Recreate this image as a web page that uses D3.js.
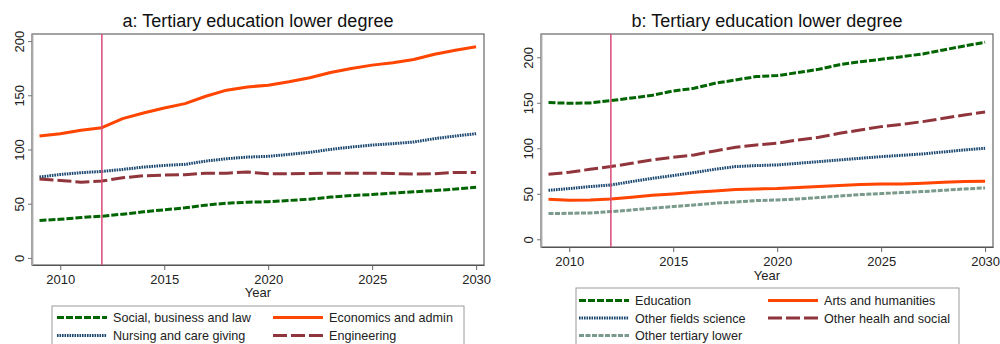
<!DOCTYPE html>
<html>
<head>
<meta charset="utf-8">
<script src="https://cdn.jsdelivr.net/npm/d3@7"></script>
<style>
  html, body { margin: 0; padding: 0; background: #ffffff; }
  svg { display: block; font-family: "Liberation Sans", Arial, sans-serif; }
</style>
</head>
<body>
<svg id="chart" width="1000" height="344"></svg>
<script>
// Projected numbers by field, tertiary education lower degree (thousands)
const years = d3.range(2009, 2031);
const xTicks = [2010, 2015, 2020, 2025, 2030];
const yTicks = [0, 50, 100, 150, 200];
const markerYear = 2012;

// Panel a
const socialBusinessLaw = [34.5, 35.7, 37.3, 38.5, 40.4, 42.5, 44.4, 46.2, 48.7, 50.5, 51.4,
  51.8, 53.0, 54.2, 56.1, 57.6, 58.5, 59.8, 61.0, 62.2, 63.5, 65.3];
const economicsAdmin = [112.4, 114.6, 117.7, 120.1, 128.5, 133.7, 138.3, 142.3, 149.1, 154.7, 157.7,
  159.3, 162.4, 166.1, 171.0, 174.7, 177.8, 179.9, 183.0, 187.9, 191.6, 194.7];
const nursingCare = [74.6, 77.0, 78.6, 79.8, 81.6, 83.8, 85.3, 86.3, 89.3, 91.5, 93.0,
  93.7, 95.5, 97.4, 100.1, 102.3, 104.1, 105.4, 106.9, 110.0, 112.4, 114.6];
const engineering = [72.7, 71.5, 69.9, 70.9, 73.9, 75.8, 76.4, 76.7, 78.2, 78.2, 79.2,
  77.6, 77.6, 77.9, 78.2, 78.2, 78.2, 77.9, 77.3, 77.6, 78.9, 78.9];

// Panel b
const education = [150.2, 149.5, 149.8, 152.4, 155.3, 158.2, 163.0, 165.9, 171.4, 175.1, 178.8,
  179.9, 183.2, 186.8, 191.9, 195.2, 197.8, 200.7, 203.7, 208.1, 212.5, 216.5];
const artsHumanities = [44.0, 42.9, 43.2, 44.3, 46.2, 48.4, 49.8, 51.6, 53.1, 54.6, 55.3,
  55.7, 56.8, 57.9, 59.0, 60.1, 60.8, 60.8, 61.5, 62.6, 63.4, 63.7];
const otherScience = [53.8, 55.7, 57.9, 59.7, 63.4, 67.0, 70.0, 73.3, 76.9, 79.9, 81.0,
  81.7, 83.5, 85.3, 87.2, 89.0, 90.8, 92.3, 93.8, 96.0, 98.2, 100.0];
const otherHealthSocial = [71.4, 73.6, 76.9, 79.9, 83.5, 87.2, 90.1, 92.7, 97.1, 101.1, 103.7,
  105.5, 109.2, 112.1, 116.5, 120.1, 123.8, 126.4, 129.3, 133.0, 136.6, 139.9];
const otherTertiary = [28.2, 28.6, 28.9, 30.4, 32.2, 34.1, 35.9, 37.7, 39.6, 41.0, 42.5,
  43.2, 44.3, 45.8, 47.6, 49.1, 50.2, 51.3, 52.4, 53.8, 55.3, 56.4];

const titleA = "a: Tertiary education lower degree";
const titleB = "b: Tertiary education lower degree";
const namesA = ["Social, business and law", "Economics and admin", "Nursing and care giving", "Engineering"];
const namesB = ["Education", "Arts and humanities", "Other fields science", "Other healh and social", "Other tertiary lower"];

// Line styles
const styles = {
  green:  { color: "#006400", dash: "7,2" },
  orange: { color: "#ff4500", dash: null },
  navy:   { color: "#1a476f", dash: "1.6,0.9" },
  maroon: { color: "#90353b", dash: "14,4" },
  sage:   { color: "#7a9a8c", dash: "5,1.5" }
};

const svg = d3.select("#chart");

function drawPanel(p) {
  const g = svg.append("g");
  const x = d3.scaleLinear().domain([2008.64, 2030.38]).range([p.left, p.right]);
  const y = d3.scaleLinear().domain(p.yDomain).range([p.bottom, p.top]);

  // title
  g.append("text")
    .attr("x", (p.left + p.right) / 2).attr("y", 27)
    .attr("text-anchor", "middle")
    .attr("font-size", 18).attr("fill", "#111")
    .text(p.title);

  // plot region outline
  g.append("rect")
    .attr("x", p.left).attr("y", p.top)
    .attr("width", p.right - p.left).attr("height", p.bottom - p.top)
    .attr("fill", "#fff").attr("stroke", "#666").attr("stroke-width", 1.2);

  // left axis
  const ya = g.append("g")
    .attr("transform", `translate(${p.left},0)`)
    .call(d3.axisLeft(y).tickValues(yTicks).tickSize(4).tickSizeOuter(0));
  ya.select(".domain").attr("stroke", "#a8a8a8").attr("stroke-width", 1.8);
  ya.selectAll(".tick line").attr("stroke", "#777");
  ya.selectAll(".tick text")
    .attr("transform", "rotate(-90)")
    .attr("x", 0).attr("y", -8).attr("dy", 0)
    .attr("text-anchor", "middle")
    .attr("font-size", 13).attr("fill", "#222")
    .attr("font-family", "Liberation Sans, Arial, sans-serif");

  // bottom axis
  const xa = g.append("g")
    .attr("transform", `translate(0,${p.bottom})`)
    .call(d3.axisBottom(x).tickValues(xTicks).tickFormat(d3.format("d")).tickSize(5).tickSizeOuter(0).tickPadding(4.5));
  xa.select(".domain").attr("stroke", "#555").attr("stroke-width", 1.2);
  xa.selectAll(".tick line").attr("stroke", "#666");
  xa.selectAll(".tick text")
    .attr("font-size", 13).attr("fill", "#222")
    .attr("font-family", "Liberation Sans, Arial, sans-serif");

  g.append("text")
    .attr("x", (p.left + p.right) / 2).attr("y", p.bottom + p.yearGap)
    .attr("text-anchor", "middle")
    .attr("font-size", 13).attr("fill", "#222")
    .text("Year");

  // series
  const line = d3.line().x((d, i) => x(years[i])).y(d => y(d));
  p.series.forEach(s => {
    g.append("path")
      .datum(s.values)
      .attr("d", line)
      .attr("fill", "none")
      .attr("stroke", s.style.color)
      .attr("stroke-width", 3)
      .attr("stroke-dasharray", s.style.dash)
      .attr("stroke-linejoin", "round");
  });

  // reference year marker
  g.append("line")
    .attr("x1", x(markerYear)).attr("x2", x(markerYear))
    .attr("y1", p.top).attr("y2", p.bottom)
    .attr("stroke", "#d94a77").attr("stroke-width", 1.5);

  // legend
  const lg = p.legend;
  g.append("rect")
    .attr("x", lg.x).attr("y", lg.y)
    .attr("width", lg.w).attr("height", lg.h)
    .attr("fill", "#fff").attr("stroke", "#9a9a9a").attr("stroke-width", 1);
  p.series.forEach((s, i) => {
    const col = i % 2, row = Math.floor(i / 2);
    const lx = lg.x + lg.colOffsets[col];
    const ly = lg.firstRow + row * lg.rowGap;
    g.append("line")
      .attr("x1", lx).attr("x2", lx + 50)
      .attr("y1", ly).attr("y2", ly)
      .attr("stroke", s.style.color)
      .attr("stroke-width", 3)
      .attr("stroke-dasharray", s.style.dash);
    g.append("text")
      .attr("x", lx + 56).attr("y", ly + 4.5)
      .attr("font-size", 12.6).attr("fill", "#222")
      .text(s.name);
  });
}

drawPanel({
  title: titleA,
  left: 32, right: 484, top: 34, bottom: 265,
  yDomain: [-6.5, 206.5],
  yearGap: 32,
  series: [
    { name: namesA[0], values: socialBusinessLaw, style: styles.green },
    { name: namesA[1], values: economicsAdmin, style: styles.orange },
    { name: namesA[2], values: nursingCare, style: styles.navy },
    { name: namesA[3], values: engineering, style: styles.maroon }
  ],
  legend: { x: 52, y: 306, w: 412, h: 60, colOffsets: [5, 221], firstRow: 317.5, rowGap: 18 }
});

drawPanel({
  title: titleB,
  left: 541, right: 993, top: 34, bottom: 247,
  yDomain: [-8.5, 225.6],
  yearGap: 33,
  series: [
    { name: namesB[0], values: education, style: styles.green },
    { name: namesB[1], values: artsHumanities, style: styles.orange },
    { name: namesB[2], values: otherScience, style: styles.navy },
    { name: namesB[3], values: otherHealthSocial, style: styles.maroon },
    { name: namesB[4], values: otherTertiary, style: styles.sage }
  ],
  legend: { x: 576, y: 288, w: 383, h: 80, colOffsets: [3, 192], firstRow: 300.5, rowGap: 17.5 }
});
</script>
</body>
</html>
